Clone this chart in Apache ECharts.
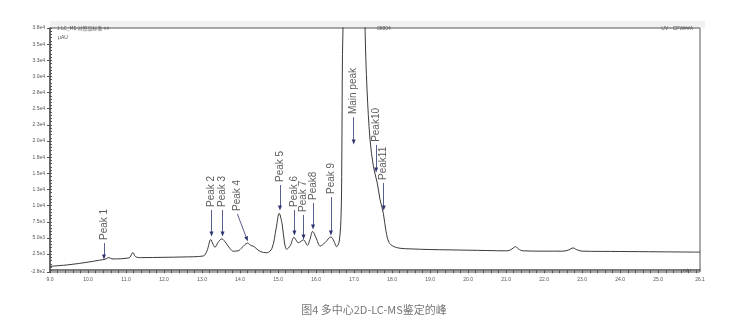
<!DOCTYPE html>
<html><head><meta charset="utf-8">
<script src="https://cdn.jsdelivr.net/npm/echarts@6/dist/echarts.min.js"></script>
<style>html,body{margin:0;padding:0;background:#fff}#c{width:748px;height:323px}</style>
</head><body><div id="c"></div>
<script>
// chromatogram trace (retention time, min ; signal, µAU)
const times = [9.00,9.50,10.00,10.30,10.45,10.55,10.63,10.75,11.00,11.10,11.18,11.25,11.40,12.00,12.50,13.03,13.13,13.23,13.29,13.34,13.42,13.52,13.63,13.74,13.82,13.95,14.05,14.20,14.29,14.34,14.42,14.53,14.70,14.84,14.95,15.03,15.11,15.17,15.23,15.32,15.42,15.47,15.53,15.67,15.77,15.84,15.91,16.00,16.11,16.24,16.39,16.47,16.54,16.61,16.66,16.68,16.71,16.89,17.11,17.26,17.29,17.34,17.42,17.51,17.61,17.68,17.77,17.84,17.92,18.03,18.21,18.5,19.0,19.5,20.0,20.5,21.0,21.1,21.2,21.25,21.32,21.45,22.0,22.5,22.65,22.76,22.85,23.0,24.0,25.0,26.1];
const signal = [600,850,1250,1550,1700,1950,1750,1750,1850,2000,2750,2100,1950,2000,2050,2200,3000,4750,4000,3550,4300,4850,4200,3300,2950,3000,3500,4200,3800,3750,3400,2900,2700,3400,6500,8800,7000,4200,3250,3800,5100,4700,4250,4700,3850,4800,6000,5000,3750,4300,5150,4500,3650,4500,9000,20000,38000,60000,60000,50000,37000,28000,20200,16000,13500,11000,8800,6000,4300,3700,3400,3300,3200,3150,3100,3050,3000,3100,3500,3650,3300,3000,2950,2950,3150,3450,3200,2950,2900,2850,2800];

// peak annotations
const peakNames = ['Peak 1','Peak 2','Peak 3','Peak 4','Peak 5','Peak 6','Peak 7','Peak8','Peak 9','Main peak','Peak10','Peak11'];
const arrowTipT = [10.42,13.25,13.54,14.18,15.05,15.43,15.67,15.92,16.39,16.99,17.58,17.78];
const arrowTailT = [10.42,13.25,13.54,13.93,15.05,15.43,15.67,15.92,16.39,16.99,17.58,17.78];
const arrowTipV = [2040,5600,5600,4830,9630,5760,5140,6690,5760,19840,15510,9630];
const arrowTailV = [4210,9320,9320,8700,13190,9320,8550,10400,11330,23700,19400,13500];

// axis ticks
const yLabelValues = [-276,2500,5000,7500,10000,12500,15000,17500,20000,22500,25000,27500,30000,32500,35000,37500];
const xLabelValues = [9,10,11,12,13,14,15,16,17,18,19,20,21,22,23,24,25,26.1];
const caption = '图4 多中心2D-LC-MS鉴定的峰';

const yMin = -276, yMax = 37500, xMin = 9, xMax = 26.1;
const minorY = []; for (let v = 0; v <= yMax; v += 500) minorY.push(v);
const minorX = []; for (let i = 0; i <= 85; i++) minorX.push(+(9 + i * 0.2).toFixed(1));

const trace = times.map((t, i) => [t, signal[i]]);
const arrows = peakNames.map((n, i) => [
  { coord: [arrowTailT[i], arrowTailV[i]] },
  { coord: [arrowTipT[i], arrowTipV[i]] }
]);
const labelPts = peakNames.map((n, i) => ({ name: n, value: [arrowTailT[i], arrowTailV[i]] }));

const chart = echarts.init(document.getElementById('c'), null, { renderer: 'canvas' });
const tiny = { fontSize: 5, color: '#555', fontFamily: 'Liberation Sans' };
chart.setOption({
  animation: false,
  backgroundColor: '#fff',
  title: [
    { text: '1 LC_MS 对照品标准 ##', left: 52, top: 21, textStyle: Object.assign({}, tiny, { fontFamily: 'Noto Sans CJK SC', fontWeight: 'normal' }) },
    { text: '08804', left: 372, top: 21, textStyle: Object.assign({}, tiny, { fontWeight: 'normal' }) },
    { text: 'UV - CFW##A', right: 50, top: 21, textStyle: Object.assign({}, tiny, { fontWeight: 'normal' }) },
    { text: 'µAU', left: 53, top: 30, textStyle: Object.assign({}, tiny, { fontWeight: 'normal' }) },
    { text: 'min', right: 52, top: 263, textStyle: Object.assign({}, tiny, { fontWeight: 'normal' }) },
    { text: caption, left: 'center', top: 299, textStyle: { fontSize: 11, color: '#777', fontWeight: 'normal', fontFamily: 'Noto Sans CJK SC' } }
  ],
  graphic: [
    { type: 'rect', z: -1, shape: { x: 50, y: 21, width: 655, height: 7 }, style: { fill: '#f1f1f1' } }
  ],
  grid: { left: 50, right: 48, top: 28, bottom: 51, show: true, borderColor: '#555', borderWidth: 1 },
  xAxis: [{
    type: 'value', min: xMin, max: xMax, interval: 1,
    axisLine: { lineStyle: { color: '#555', width: 1.5 } },
    axisTick: { length: 3, lineStyle: { color: '#555' }, customValues: minorX },
    axisLabel: { customValues: xLabelValues, formatter: v => v.toFixed(1), fontSize: 5, color: '#555', margin: 5, fontFamily: 'Liberation Sans' },
    splitLine: { show: false }
  }],
  yAxis: [{
    type: 'value', min: yMin, max: yMax,
    axisLine: { show: true, lineStyle: { color: '#555', width: 1.5 } },
    axisTick: { show: true, length: 3, lineStyle: { color: '#555' }, customValues: yLabelValues },
    axisLabel: { customValues: yLabelValues, formatter: v => v.toExponential(1).replace('+', ''), fontSize: 5, color: '#555', margin: 5, fontFamily: 'Liberation Sans' },
    splitLine: { show: false }
  }, {
    type: 'value', min: yMin, max: yMax, position: 'left',
    axisLine: { show: false },
    axisTick: { show: true, length: 2, inside: true, lineStyle: { color: '#555' }, customValues: minorY },
    axisLabel: { show: false },
    splitLine: { show: false }
  }],
  series: [{
    type: 'line', data: trace, smooth: 0.35, showSymbol: false, clip: true,
    lineStyle: { color: '#3a3a3a', width: 1 },
    markLine: {
      silent: true, symbol: ['none', 'triangle'], symbolSize: [4, 5], precision: 3,
      lineStyle: { color: '#2e3570', width: 0.8, type: 'solid' },
      label: { show: false },
      data: arrows
    }
  }, {
    type: 'scatter', data: labelPts, symbolSize: 0.1, silent: true,
    label: {
      show: true, formatter: p => p.name, rotate: 90, position: 'top', distance: 3,
      align: 'left', verticalAlign: 'middle',
      fontSize: 10, color: '#333', fontFamily: 'Liberation Sans'
    }
  }]
});
</script></body></html>
